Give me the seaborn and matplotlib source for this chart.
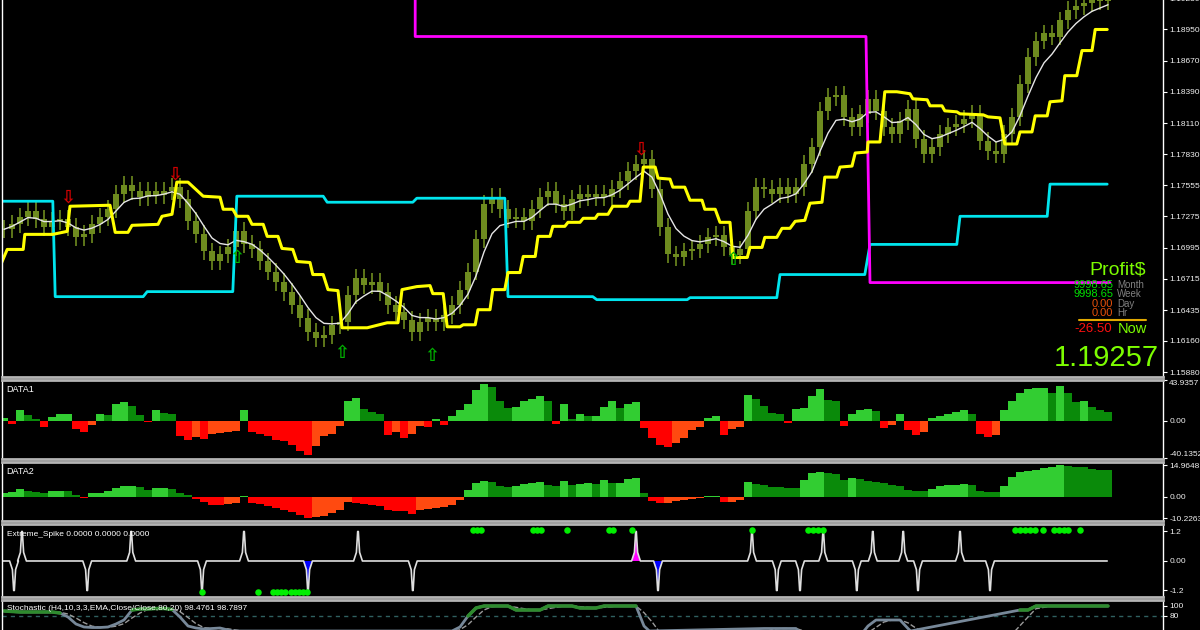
import matplotlib
matplotlib.use("Agg")
import matplotlib.pyplot as plt
import numpy as np
import pandas as pd
import seaborn as sns

sns.set_style("dark", {"axes.facecolor": "black", "figure.facecolor": "black"})
plt.rcParams["font.family"] = ["Liberation Sans", "DejaVu Sans"]

# ---- data (one candle per step) ----
closes = [
    1.17159, 1.17204, 1.17267, 1.17321, 1.17249, 1.17177, 1.17231, 1.17249, 1.17177, 1.17087,
    1.17114, 1.17204, 1.17267, 1.17339, 1.17474, 1.17555, 1.17501, 1.17447, 1.17501, 1.17465,
    1.17501, 1.17537, 1.17429, 1.17231, 1.17114, 1.16961, 1.16871, 1.16934, 1.16997, 1.17141,
    1.17024, 1.16979, 1.16871, 1.16781, 1.16691, 1.16601, 1.16484, 1.16367, 1.16241, 1.16187,
    1.16214, 1.16304, 1.16331, 1.16574, 1.16727, 1.16664, 1.16691, 1.16601, 1.16484, 1.16421,
    1.16349, 1.16241, 1.16331, 1.16367, 1.16331, 1.16394, 1.16484, 1.16619, 1.16781, 1.17069,
    1.17384, 1.17447, 1.17339, 1.17249, 1.17267, 1.17231, 1.17339, 1.17447, 1.17501, 1.17384,
    1.17321, 1.17429, 1.17474, 1.17447, 1.17474, 1.17447, 1.17519, 1.17591, 1.17681, 1.17744,
    1.17789, 1.17519, 1.17177, 1.16934, 1.16907, 1.16961, 1.16979, 1.17024, 1.17087, 1.17105,
    1.16997, 1.16925, 1.16979, 1.17321, 1.17537, 1.17519, 1.17474, 1.17537, 1.17474, 1.17537,
    1.17744, 1.17897, 1.18221, 1.18347, 1.18365, 1.18167, 1.18077, 1.18194, 1.18329, 1.18221,
    1.18077, 1.18014, 1.18131, 1.18239, 1.17969, 1.17834, 1.17897, 1.18014, 1.18077, 1.18104,
    1.18149, 1.18194, 1.17951, 1.17861, 1.17834, 1.18014, 1.18167, 1.18464, 1.18707, 1.18851,
    1.18914, 1.18887, 1.19031, 1.19121, 1.19157, 1.19184, 1.19211, 1.19202, 1.19229,
]

yellow_bars = [
    -0.5, 0.4, 2.4, 2.6, 6.1, 7.9, 8.25, 13.25, 13.9, 15.5, 16.0, 19.25, 19.75, 21.0, 21.6, 23.0,
    24.9, 27.0, 27.4, 28.6, 29.1, 30.5, 31.0, 32.4, 32.9, 34.25, 34.75, 36.1, 36.6, 38.25, 38.6,
    39.9, 40.5, 41.75, 42.25, 45.4, 47.9, 49.25, 49.75, 51.6, 53.25, 53.6, 54.9, 55.4, 57.0, 57.4,
    58.9, 59.25, 60.75, 61.1, 62.6, 63.0, 64.5, 64.9, 66.4, 66.75, 68.25, 68.6, 70.1, 70.5, 72.0,
    72.4, 73.9, 74.25, 75.5, 76.1, 77.9, 78.25, 79.5, 79.9, 81.4, 81.75, 83.25, 83.6, 85.1, 85.75,
    87.25, 87.6, 88.9, 89.5, 90.75, 91.1, 92.9, 93.25, 94.75, 95.1, 96.6, 97.25, 98.25, 98.9,
    100.1, 100.75, 102.25, 102.6, 104.1, 104.5, 106.0, 106.4, 107.9, 108.0, 109.5, 110.1, 111.6,
    113.25, 113.6, 115.4, 115.75, 117.25, 117.6, 119.1, 119.5, 122.4, 123.0, 124.5, 125.1, 126.6,
    127.0, 128.5, 128.9, 130.4, 130.75, 132.25, 132.6, 134.1, 134.75, 136.0, 136.4, 137.9,
]
yellow_vals = [
    1.16826, 1.16979, 1.16979, 1.17114, 1.17114, 1.17141, 1.17366, 1.17375, 1.17132, 1.17132,
    1.17195, 1.17204, 1.17276, 1.17294, 1.17582, 1.17582, 1.17456, 1.17447, 1.17339, 1.17339,
    1.17276, 1.17276, 1.17204, 1.17204, 1.17096, 1.17096, 1.16988, 1.16979, 1.16871, 1.16862,
    1.16754, 1.16754, 1.16619, 1.16610, 1.16277, 1.16277, 1.16322, 1.16322, 1.16619, 1.16646,
    1.16655, 1.16583, 1.16583, 1.16286, 1.16286, 1.16304, 1.16304, 1.16439, 1.16439, 1.16619,
    1.16619, 1.16772, 1.16772, 1.16916, 1.16916, 1.17096, 1.17096, 1.17186, 1.17186, 1.17222,
    1.17222, 1.17258, 1.17258, 1.17294, 1.17294, 1.17366, 1.17366, 1.17411, 1.17411, 1.17717,
    1.17717, 1.17618, 1.17609, 1.17537, 1.17537, 1.17420, 1.17420, 1.17339, 1.17339, 1.17222,
    1.17222, 1.16907, 1.16907, 1.16997, 1.16997, 1.17087, 1.17087, 1.17168, 1.17168, 1.17231,
    1.17240, 1.17393, 1.17402, 1.17627, 1.17627, 1.17717, 1.17726, 1.17843, 1.17852, 1.17942,
    1.17942, 1.18392, 1.18392, 1.18374, 1.18329, 1.18320, 1.18266, 1.18266, 1.18221, 1.18212,
    1.18194, 1.18185, 1.18167, 1.18158, 1.17924, 1.17924, 1.18032, 1.18032, 1.18176, 1.18176,
    1.18302, 1.18311, 1.18536, 1.18536, 1.18761, 1.18761, 1.18950, 1.18950,
]

cyan_bars = [-0.5, 6.1, 6.4, 17.4, 17.9, 28.6, 29.1, 39.9, 40.4, 51.1, 51.6, 62.6, 63.0,
             73.6, 74.1, 85.4, 85.75, 96.6, 97.0, 107.6, 108.25, 119.1, 119.5, 130.4, 130.75, 137.9]
cyan_vals = [1.17411, 1.17411, 1.16556, 1.16556, 1.16601, 1.16601, 1.17456, 1.17456, 1.17402,
             1.17402, 1.17438, 1.17438, 1.16556, 1.16556, 1.16529, 1.16529, 1.16547, 1.16547,
             1.16754, 1.16754, 1.17024, 1.17024, 1.17276, 1.17276, 1.17564, 1.17564]

magenta_bars = [51.4, 51.4, 107.75, 108.0, 108.25, 138.25]
magenta_vals = [1.19500, 1.18887, 1.18887, 1.17780, 1.16682, 1.16682]

sell_arrow_bars = [8.0, 21.4, 79.6]
sell_arrow_vals = [1.17447, 1.17654, 1.17870]
buy_arrow_bars = [29.1, 42.25, 53.5, 91.1]
buy_arrow_vals = [1.16906, 1.16051, 1.16024, 1.16888]

data1 = [
    3, -3, 12, 6, 2, -6, 4, 7, 8, -9,
    -12, -4, 8, 6, 18, 20, 16, 6, -1, 12,
    9, 8, -16, -20, -17, -19, -14, -13, -12, -11,
    12, -12, -14, -16, -20, -22, -26, -32, -37, -27,
    -16, -14, -5, 22, 25, 13, 10, 7, -15, -12,
    -18, -14, -5, -7, 2, -4, 5, 12, 18, 33,
    40, 37, 22, 14, 15, 21, 24, 27, 22, -3,
    18, 2, 7, 5, 5, 15, 22, 14, 18, 20,
    -8, -18, -26, -28, -24, -18, -10, -6, 3, 5,
    -15, -9, -7, 28, 24, 16, 9, 8, -2, 13,
    14, 27, 34, 23, 22, -5, 8, 12, 13, 11,
    -8, -4, 8, -10, -15, -12, 3, 5, 8, 10,
    12, 7, -14, -17, -15, 12, 22, 30, 34, 35,
    36, 30, 38, 30, 20, 22, 15, 12, 10,
]

data2 = [
    1.8, 2.2, 3.5, 2.5, 2.0, 1.8, 2.6, 2.7, 2.5, 0.8,
    -0.5, 1.6, 1.8, 2.4, 4.0, 5.0, 5.2, 4.5, 3.0, 4.2,
    4.2, 3.5, 1.6, 0.6, -1.0, -2.5, -4.0, -4.2, -3.5, -3.0,
    0.5, -3.0, -3.5, -4.5, -5.5, -6.5, -7.5, -8.6, -10.2, -9.6,
    -9.0, -7.8, -6.5, -2.4, -3.0, -3.6, -4.2, -4.7, -6.3, -6.8,
    -7.0, -8.3, -6.5, -6.0, -5.5, -5.0, -4.2, -1.6, 3.0, 6.5,
    7.2, 7.0, 5.0, 4.6, 4.8, 6.0, 6.5, 7.0, 5.5, 5.0,
    7.2, 5.5, 5.8, 6.2, 6.0, 8.0, 6.5, 6.5, 8.2, 8.6,
    1.6, -2.0, -3.1, -3.0, -2.0, -1.5, -1.0, -0.8, 0.3, 0.3,
    -2.4, -2.4, -1.8, 7.0, 6.0, 5.3, 4.7, 4.5, 4.0, 3.9,
    8.0, 11.0, 11.8, 11.0, 10.5, 8.0, 9.0, 8.5, 7.5, 7.0,
    6.3, 5.5, 5.0, 3.0, 2.6, 2.4, 3.5, 5.0, 5.5, 5.7,
    5.8, 5.6, 2.4, 2.2, 2.0, 5.0, 9.4, 11.8, 12.2, 12.6,
    13.4, 14.0, 14.9, 14.5, 14.0, 13.8, 13.2, 12.8, 12.6,
]

spike_bars = [1.25, 2.25, 10.4, 15.9, 24.75, 30.0, 38.0, 44.25, 51.1, 79.0, 81.75,
              93.5, 96.6, 99.5, 102.4, 106.6, 108.6, 112.4, 114.25, 119.5, 123.25]
spike_dirs = [-1, 1, -1, 1, -1, 1, -1, 1, -1, 1, -1,
              1, -1, -1, 1, -1, 1, 1, -1, 1, -1]
spike_fill = {38.0: "#0000ff", 79.0: "#ff00ff", 81.75: "#0000ff"}
dots_top = [58.6, 59.1, 59.6, 66.1, 66.6, 67.1, 70.4, 75.6, 76.1, 78.5, 93.5, 100.5, 101.1,
            101.75, 102.4, 126.4, 127.0, 127.6, 128.25, 128.9, 129.9, 131.25, 131.9, 132.5,
            133.0, 134.5]
dots_bottom = [24.75, 31.75, 33.6, 34.1, 34.6, 35.1, 35.9, 36.4, 36.9, 37.4, 37.9]

stoch_main = [
    90, 89, 88, 88, 88, 88, 88, 86,
    78, 64, 58, 57, 57, 58, 64, 72,
    92, 94, 94, 95, 95, 93, 78, 60,
    56, 54, 55, 56, 52, 48, 48, 48,
    48, 48, 48, 35, 35, 35, 35, 35,
    35, 35, 35, 35, 35, 35, 35, 35,
    35, 45, 45, 45, 45, 45, 45, 50,
    50, 58, 80, 96, 100, 100, 100, 100,
    92, 92, 92, 92, 100, 100, 100, 100,
    96, 96, 96, 100, 100, 100, 100, 100,
    60, 45, 35, 35, 35, 35, 35, 35,
    35, 35, 35, 35, 35, 35, 50, 55,
    55, 55, 55, 55, 40, 40, 40, 40,
    40, 40, 40, 40, 60, 72, 72, 72,
    72, 55, 40, 40, 40, 40, 40, 40,
    40, 40, 40, 40, 40, 40, 50, 92,
    92, 100, 100, 100, 100, 100, 100, 100,
    100, 100, 100,
]

price_ticks = [1.15880, 1.16160, 1.16435, 1.16715, 1.16995, 1.17275, 1.17555,
               1.17830, 1.18110, 1.18390, 1.18670, 1.18950, 1.19230]

# ---- layout ----
W, H = 1200, 630
XMIN, XMAX = -0.25, 144.875
LEFT, WIDTH = 2 / W, 1161 / W
OLIVE = "#6e8b1f"
FRAME = "#b4b4b4"


def panel(top_px, bottom_px):
    return fig.add_axes([LEFT, 1 - bottom_px / H, WIDTH, (bottom_px - top_px) / H])


def style(ax, ticks, labels):
    ax.set_facecolor("black")
    ax.set_xlim(XMIN, XMAX)
    ax.yaxis.tick_right()
    ax.set_yticks(ticks)
    ax.set_yticklabels(labels)
    ax.tick_params(axis="y", colors="white", labelcolor="#f0f0f0", labelsize=6,
                   length=3, width=0.8, pad=1.5, direction="out", right=True, left=False)
    ax.tick_params(axis="x", bottom=False, labelbottom=False)
    ax.grid(False)
    for s in ("left", "right"):
        ax.spines[s].set_color("white")
        ax.spines[s].set_linewidth(1)
    for s in ("top", "bottom"):
        ax.spines[s].set_color(FRAME)
        ax.spines[s].set_linewidth(2)
    ax.set_xlabel("")
    ax.set_ylabel("")


fig = plt.figure(figsize=(12, 6.3), dpi=100, facecolor="black")

# ---- main price panel ----
ax = panel(-2, 377)
x = np.arange(len(closes))
c = np.array(closes)
o = np.r_[c[0], c[:-1]]
lo_body = np.minimum(o, c)
hi_body = np.maximum(o, c)
ax.vlines(x, lo_body - 0.0008, hi_body + 0.0008, colors=OLIVE, linewidth=1.2)
ax.bar(x, np.maximum(hi_body - lo_body, 0.00008), bottom=lo_body, width=0.65,
       color=OLIVE, linewidth=0)

ema = pd.Series(closes).ewm(span=5).mean()
sns.lineplot(x=x, y=ema.values, ax=ax, color="#e6e6e6", linewidth=1, estimator=None, sort=False)
sns.lineplot(x=cyan_bars, y=cyan_vals, ax=ax, color="#00e5ee", linewidth=2,
             estimator=None, sort=False)
sns.lineplot(x=magenta_bars, y=magenta_vals, ax=ax, color="#ff00ff", linewidth=2,
             estimator=None, sort=False)
sns.lineplot(x=yellow_bars, y=yellow_vals, ax=ax, color="#ffff00", linewidth=2.2,
             estimator=None, sort=False)

for bx, by in zip(sell_arrow_bars, sell_arrow_vals):
    ax.text(bx, by, "\u21e9", color="#d00000", fontsize=13, ha="center", va="center",
            family=["DejaVu Sans"], fontweight="bold")
for bx, by in zip(buy_arrow_bars, buy_arrow_vals):
    ax.text(bx, by, "\u21e7", color="#00b000", fontsize=13, ha="center", va="center",
            family=["DejaVu Sans"], fontweight="bold")

ax.set_ylim(1.15836, 1.19232)
style(ax, price_ticks, [f"{t:.5f}" for t in price_ticks])
ax.spines["top"].set_visible(False)


# profit block
def ftext(px, py, s, **kw):
    fig.text(px / W, 1 - py / H, s, va="center", **kw)


ftext(1146, 270, "Profit$", color="#7cfc00", fontsize=14, ha="right")
rows = [("9998.65", "Month", "#00e000", 285), ("9998.65", "Week", "#00e000", 294),
        ("0.00", "Day", "#e8500a", 304), ("0.00", "Hr", "#e8500a", 313)]
for val, name, col, py in rows:
    ftext(1113, py, val, color=col, fontsize=8, ha="right")
    ftext(1117, py, name, color="#808080", fontsize=7, ha="left")
fig.add_artist(plt.Line2D([1079 / W, 1146 / W], [1 - 320 / H, 1 - 320 / H],
                          color="#e0a800", linewidth=1.5, transform=fig.transFigure))
ftext(1112, 329, "-26.50", color="#ff1010", fontsize=9.5, ha="right")
ftext(1118, 329, "Now", color="#7cfc00", fontsize=10.5, ha="left")
ftext(1159, 358, "1.19257", color="#7cfc00", fontsize=21, ha="right")


# ---- histogram panels ----
def hist_colors(vals):
    cols = []
    prev = 0
    for v in vals:
        rising = v >= prev
        if v >= 0:
            cols.append("#32cd32" if rising else "#0a8a0a")
        else:
            cols.append("#ff4a10" if rising else "#ff0000")
        prev = v
    return cols


ax1 = panel(380, 459)
ax1.bar(np.arange(len(data1)), data1, width=1.0, color=hist_colors(data1), linewidth=0)
ax1.set_ylim(-40.9, 44.1)
style(ax1, [43.9357, 0, -40.1352], ["43.9357", "0.00", "-40.1352"])
ax1.get_yticklabels()[0].set_va("top")
ax1.get_yticklabels()[2].set_va("bottom")
ax1.text(0.004, 0.94, "DATA1", transform=ax1.transAxes, color="white", fontsize=6.5, va="top")

ax2 = panel(462, 521)
ax2.bar(np.arange(len(data2)), data2, width=1.0, color=hist_colors(data2), linewidth=0)
ax2.set_ylim(-11.6, 16.4)
style(ax2, [14.9648, 0, -10.2263], ["14.9648", "0.00", "-10.2263"])
ax2.text(0.004, 0.92, "DATA2", transform=ax2.transAxes, color="white", fontsize=6.5, va="top")

# ---- extreme spike panel ----
ax3 = panel(524, 597)
order = np.argsort(spike_bars)
sx, sy = [-0.5], [0.0]
for k in order:
    p, d = spike_bars[k], spike_dirs[k]
    px = [p - 0.55, p - 0.2, p - 0.04, p + 0.04, p + 0.2, p + 0.55]
    py = [0, 0.35 * d, 1.2 * d, 1.2 * d, 0.35 * d, 0]
    if p in spike_fill:
        ax3.fill(px, py, color=spike_fill[p], linewidth=0)
    sx += px
    sy += py
sx.append(137.9)
sy.append(0.0)
sns.lineplot(x=sx, y=sy, ax=ax3, color="#e0e0e0", linewidth=1.2, estimator=None, sort=False)
ax3.scatter(dots_top, [1.26] * len(dots_top), s=22, color="#00ee00", zorder=5, linewidths=0)
ax3.scatter(dots_bottom, [-1.26] * len(dots_bottom), s=22, color="#00ee00", zorder=5,
            linewidths=0)
ax3.set_ylim(-1.465, 1.505)
style(ax3, [1.2, 0, -1.2], ["1.2", "0.00", "-1.2"])
ax3.text(0.004, 0.9, "Extreme_Spike 0.0000 0.0000 0.0000", transform=ax3.transAxes,
         color="white", fontsize=6, va="top")

# ---- stochastic panel ----
ax4 = panel(600, 643)
sm = pd.Series(stoch_main, dtype=float)
sig = sm.rolling(3, min_periods=1).mean()
xs = np.arange(len(sm))
ax4.axhline(80, color="#2f6060", linestyle=(0, (3, 3)), linewidth=1)
sns.lineplot(x=xs, y=sig.values, ax=ax4, color="#9a9a9a", linewidth=1,
             linestyle="--", estimator=None, sort=False)
sns.lineplot(x=xs, y=sm.values, ax=ax4, color="#778899", linewidth=2, estimator=None, sort=False)
ax4.plot(xs, sm.where(sm >= 80).values, color="#2e8b2e", linewidth=2.5)
ax4.set_ylim(26, 112)
style(ax4, [100, 80], ["100", "80"])
ax4.spines["bottom"].set_visible(False)
ax4.text(0.004, 0.88, "Stochastic (H4,10,3,3,EMA,Close/Close,80,20) 98.4761 98.7897",
         transform=ax4.transAxes, color="white", fontsize=6, va="top")

fig.savefig("out.png", dpi=100, facecolor="black")
